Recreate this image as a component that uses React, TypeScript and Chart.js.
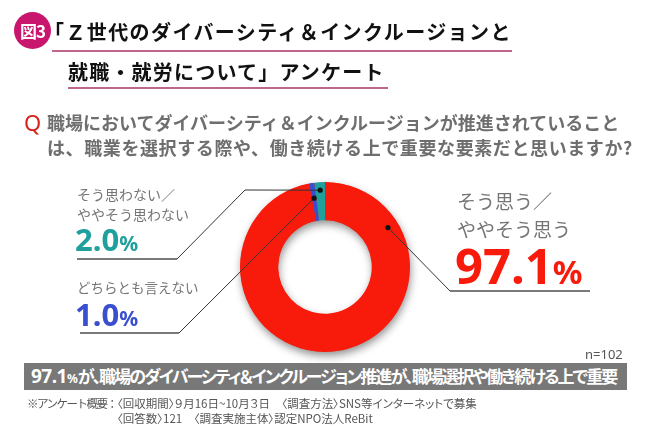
import React, { useEffect, useRef } from "react";
import { Chart, registerables } from "chart.js";
Chart.register(...registerables);

// ---- data ----
const categories = ["そう思う／ややそう思う", "どちらとも言えない", "そう思わない／ややそう思わない"];
const values = [97.1, 1.0, 2.0];
const valueLabels = ["97.1", "1.0", "2.0"];
const colors = ["#f81b0c", "#3a4fd0", "#20a09c"];
const titleLines = ["「Ｚ世代のダイバーシティ＆インクルージョンと", "就職・就労について」アンケート"];
const questionLines = ["職場においてダイバーシティ＆インクルージョンが推進されていること", "は、職業を選択する際や、働き続ける上で重要な要素だと思いますか?"];
const sampleSize = "n=102";
const bannerValue = "97.1";
const bannerText = "が、職場のダイバーシティ＆インクルージョン推進が、職場選択や働き続ける上で重要";
const noteHead = "※アンケート概要：";
const noteLines = ["〈回収期間〉９月16日~10月３日　〈調査方法〉SNS等インターネットで募集", "〈回答数〉121　〈調査実施主体〉認定NPO法人ReBit"];

const JP = "'Noto Sans CJK JP', 'Noto Sans', sans-serif";
const NUM = "'Noto Sans', 'Noto Sans CJK JP', sans-serif";

// leader line geometry (style, not data)
const leaders = [
  { index: 0, frac: 0.166, t: 0.72, path: [[450, 291]], under: [[450, 291], [590, 291]] },
  { index: 1, frac: 0.5, t: 0.6, path: [[179, 333]], under: [[80, 333], [179, 333]] },
  { index: 2, frac: 0.5, t: 0.79, path: [[177, 259], [245, 190]], under: [[77, 259], [177, 259]] },
];

const shadowPlugin = {
  id: "ringShadow",
  beforeDatasetsDraw(chart: any) {
    const meta = chart.getDatasetMeta(0);
    const a = meta.data[0];
    if (!a) return;
    const { x, y, outerRadius, innerRadius } = a.getProps(["x", "y", "outerRadius", "innerRadius"], true);
    const ctx = chart.ctx;
    ctx.save();
    ctx.shadowColor = "rgba(0,0,0,0.45)";
    ctx.shadowBlur = 9;
    ctx.shadowOffsetX = 1;
    ctx.shadowOffsetY = 4;
    ctx.beginPath();
    ctx.arc(x, y, outerRadius - 0.5, 0, Math.PI * 2);
    ctx.arc(x, y, innerRadius + 0.5, 0, Math.PI * 2, true);
    ctx.fillStyle = colors[0];
    ctx.fill("evenodd");
    ctx.restore();
  },
};

const leaderPlugin = {
  id: "leaders",
  afterDraw(chart: any) {
    const meta = chart.getDatasetMeta(0);
    const ctx = chart.ctx;
    leaders.forEach((l) => {
      const arc = meta.data[l.index];
      if (!arc) return;
      const p = arc.getProps(["x", "y", "startAngle", "endAngle", "outerRadius", "innerRadius"], true);
      const ang = p.startAngle + (p.endAngle - p.startAngle) * l.frac;
      const r = p.innerRadius + (p.outerRadius - p.innerRadius) * l.t;
      const dx = p.x + Math.cos(ang) * r;
      const dy = p.y + Math.sin(ang) * r;
      ctx.save();
      ctx.strokeStyle = "#7a7a7a";
      ctx.lineWidth = 2;
      ctx.beginPath();
      ctx.moveTo(l.under[0][0], l.under[0][1]);
      ctx.lineTo(l.under[1][0], l.under[1][1]);
      ctx.stroke();
      ctx.strokeStyle = "#333";
      ctx.lineWidth = 1;
      ctx.beginPath();
      ctx.moveTo(l.path[0][0], l.path[0][1]);
      for (let i = 1; i < l.path.length; i++) ctx.lineTo(l.path[i][0], l.path[i][1]);
      ctx.lineTo(dx, dy);
      ctx.stroke();
      ctx.fillStyle = "#111";
      ctx.beginPath();
      ctx.arc(dx, dy, 2.6, 0, Math.PI * 2);
      ctx.fill();
      ctx.restore();
    });
  },
};

const abs = (s: React.CSSProperties): React.CSSProperties => ({ position: "absolute", whiteSpace: "nowrap", margin: 0, ...s });

export default function App() {
  const ref = useRef<HTMLCanvasElement>(null);
  useEffect(() => {
    document.body.style.margin = "0";
    const chart = new Chart(ref.current!, {
      type: "doughnut",
      data: {
        labels: categories,
        datasets: [{ data: values, backgroundColor: colors, borderWidth: 0 }],
      },
      options: {
        responsive: false,
        animation: false,
        devicePixelRatio: 1,
        cutout: "55%",
        layout: { padding: { left: 240, right: 240, top: 182, bottom: 90 } },
        plugins: { legend: { display: false }, tooltip: { enabled: false } },
      },
      plugins: [shadowPlugin, leaderPlugin],
    });
    return () => chart.destroy();
  }, []);

  const gray = "#757575";
  return (
    <div style={{ position: "fixed", left: 0, top: 0, width: 650, height: 442, background: "#fff", overflow: "hidden", fontFamily: JP }}>
      <canvas ref={ref} width={650} height={442} style={{ position: "absolute", left: 0, top: 0 }} />
      {/* badge */}
      <div style={abs({ left: 14, top: 12, width: 37, height: 37, borderRadius: 19, background: "#c8166e", color: "#fff", fontWeight: 700, fontSize: 17, lineHeight: "37px", textAlign: "center", letterSpacing: -1 })}>図3</div>
      {/* title */}
      <div style={abs({ left: 44, top: 22, fontSize: 20, lineHeight: "20px", fontWeight: 700, color: "#111", letterSpacing: 1.4 })}>{titleLines[0]}</div>
      <div style={abs({ left: 52, top: 50, width: 460, height: 2, background: "#c0658c" })} />
      <div style={abs({ left: 68, top: 62, fontSize: 20, lineHeight: "20px", fontWeight: 700, color: "#111", letterSpacing: 1.2 })}>{titleLines[1]}</div>
      <div style={abs({ left: 68, top: 87, width: 320, height: 2, background: "#c0658c" })} />
      {/* question */}
      <div style={abs({ left: 24, top: 111, fontSize: 22, lineHeight: "22px", color: "#d8201a", fontFamily: NUM })}>Q</div>
      <div style={abs({ left: 47, top: 113, fontSize: 18, lineHeight: "18px", fontWeight: 700, color: "#6e6e6e" })}>{questionLines[0]}</div>
      <div style={abs({ left: 47, top: 138, fontSize: 18, lineHeight: "18px", fontWeight: 700, color: "#6e6e6e", letterSpacing: 0.6 })}>{questionLines[1]}</div>
      {/* left labels */}
      <div style={abs({ left: 77, top: 187, fontSize: 14, lineHeight: "14px", color: gray })}>そう思わない／</div>
      <div style={abs({ left: 77, top: 207, fontSize: 14, lineHeight: "14px", color: gray })}>ややそう思わない</div>
      <div style={abs({ left: 75, top: 224, fontSize: 31, lineHeight: "31px", fontWeight: 700, color: colors[2], fontFamily: NUM })}>{valueLabels[2]}<span style={{ fontSize: 21 }}>%</span></div>
      <div style={abs({ left: 77, top: 280, fontSize: 13.5, lineHeight: "14px", color: gray })}>どちらとも言えない</div>
      <div style={abs({ left: 75, top: 299, fontSize: 31, lineHeight: "31px", fontWeight: 700, color: colors[1], fontFamily: NUM })}>{valueLabels[1]}<span style={{ fontSize: 21 }}>%</span></div>
      {/* right label */}
      <div style={abs({ left: 457, top: 191, fontSize: 19, lineHeight: "19px", color: gray })}>そう思う／</div>
      <div style={abs({ left: 457, top: 219, fontSize: 19, lineHeight: "19px", color: gray })}>ややそう思う</div>
      <div style={abs({ left: 455, top: 241, fontSize: 49, lineHeight: "49px", fontWeight: 700, color: colors[0], fontFamily: NUM })}>{valueLabels[0]}<span style={{ fontSize: 33 }}>%</span></div>
      {/* n */}
      <div style={abs({ left: 585, top: 347, fontSize: 13, lineHeight: "14px", color: "#555", fontFamily: NUM })}>{sampleSize}</div>
      {/* banner */}
      <div style={abs({ left: 24, top: 363, width: 603, height: 27, background: "#787878" })} />
      <div style={abs({ left: 31, top: 366, fontSize: 17, lineHeight: "20px", fontWeight: 700, color: "#fff", fontFeatureSettings: "'palt'", letterSpacing: -1.9 })}>
        <span style={{ fontFamily: NUM, fontSize: 19, letterSpacing: -0.5 }}>{bannerValue}</span><span style={{ fontFamily: NUM, fontSize: 12, letterSpacing: 0 }}>%</span>{bannerText}
      </div>
      {/* notes */}
      <div style={abs({ left: 27, top: 396, fontSize: 11.5, lineHeight: "14px", color: "#555", letterSpacing: -1.5 })}>{noteHead}</div>
      <div style={abs({ left: 117, top: 396, fontSize: 11.5, lineHeight: "14px", color: "#555", fontFeatureSettings: "'palt'" })}>{noteLines[0]}</div>
      <div style={abs({ left: 117, top: 411, fontSize: 11.5, lineHeight: "14px", color: "#555", fontFeatureSettings: "'palt'" })}>{noteLines[1]}</div>
    </div>
  );
}
